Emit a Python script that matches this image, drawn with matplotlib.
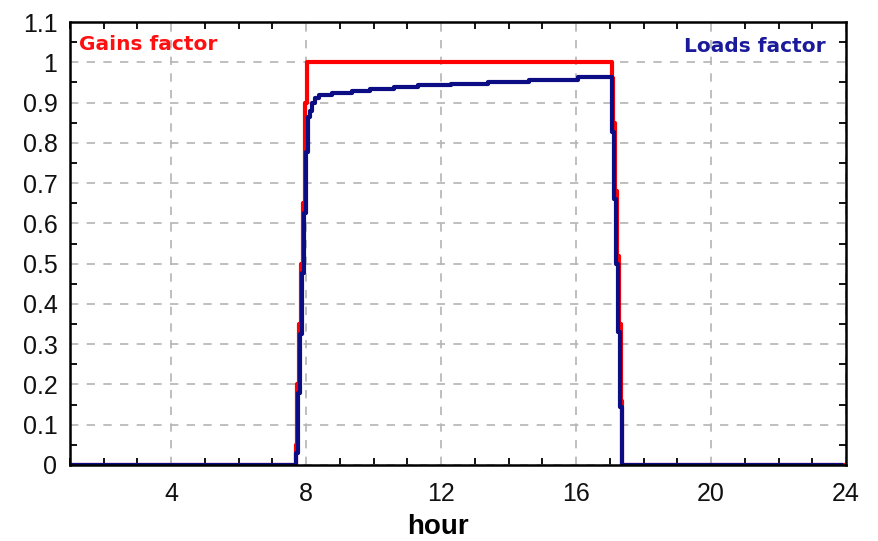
import numpy as np
import matplotlib
matplotlib.use("Agg")
import matplotlib.pyplot as plt
from matplotlib.ticker import MultipleLocator

# hour / factor pairs (step curves)
gains_hours = [1.0, 7.70, 7.73, 7.79, 7.85, 7.91, 7.97, 8.03, 17.05, 17.08,
               17.14, 17.20, 17.27, 17.33, 17.36, 24.0]
gains_vals = [0.0, 0.05, 0.20, 0.35, 0.50, 0.65, 0.90, 1.0, 0.96, 0.85,
              0.68, 0.52, 0.35, 0.16, 0.0, 0.0]

loads_hours = [1.0, 7.71, 7.75, 7.81, 7.87, 7.93, 7.99, 8.04, 8.10, 8.17,
               8.25, 8.38, 8.78, 9.37, 9.90, 10.60, 11.30, 12.30, 13.40,
               14.60, 16.06, 17.06, 17.12, 17.18, 17.25, 17.31, 17.35, 23.85]
loads_vals = [0.0, 0.03, 0.18, 0.326, 0.477, 0.625, 0.778, 0.864, 0.88, 0.90,
              0.912, 0.919, 0.924, 0.928, 0.933, 0.939, 0.943, 0.946, 0.952,
              0.957, 0.963, 0.827, 0.66, 0.50, 0.33, 0.144, 0.0, 0.0]

plt.rcParams['font.family'] = ['Liberation Sans', 'DejaVu Sans']

fig = plt.figure(figsize=(8.79, 5.41), dpi=100)
ax = fig.add_axes([0.0796, 0.1405, 0.8829, 0.8188])

ax.plot(gains_hours, gains_vals, drawstyle='steps-post', color='#ff0000', lw=3)
ax.plot(loads_hours, loads_vals, drawstyle='steps-post', color='#0c0c85', lw=3)

ax.set_xlim(1, 24)
ax.set_ylim(0, 1.1)
ax.xaxis.set_minor_locator(MultipleLocator(1))
ax.yaxis.set_minor_locator(MultipleLocator(0.05))
ax.set_yticks(np.arange(0, 1.11, 0.1))
ax.set_yticklabels(['0', '0.1', '0.2', '0.3', '0.4', '0.5', '0.6', '0.7',
                    '0.8', '0.9', '1', '1.1'])
xt = [4, 8, 12, 16, 20, 24]
ax.set_xticks(xt)
ax.set_xticklabels([str(h) for h in xt])

ax.tick_params(which='both', direction='in', top=True, right=True,
               colors='black', labelcolor='#111111', labelsize=18)
ax.tick_params(which='major', length=0)
ax.tick_params(axis='y', which='major', pad=9)
ax.tick_params(axis='x', which='major', pad=12)
ax.tick_params(which='minor', length=5, width=1.3)

ax.grid(True, which='major', color='#b4b4b4', linestyle=(0, (5, 5)), lw=1.2)
for s in ax.spines.values():
    s.set_linewidth(1.8)

ax.text(0.012, 0.95, 'Gains factor', transform=ax.transAxes, color='#ff1010',
        fontsize=14.5, fontweight='bold', family='DejaVu Sans',
        ha='left', va='center')
ax.text(0.974, 0.945, 'Loads factor', transform=ax.transAxes, color='#1a1a9a',
        fontsize=14.5, fontweight='bold', family='DejaVu Sans',
        ha='right', va='center')

ax.set_xlabel('hour', fontsize=20, fontweight='bold', va='center')
ax.xaxis.set_label_coords(0.474, -0.14)

fig.savefig('out.png', dpi=100)
